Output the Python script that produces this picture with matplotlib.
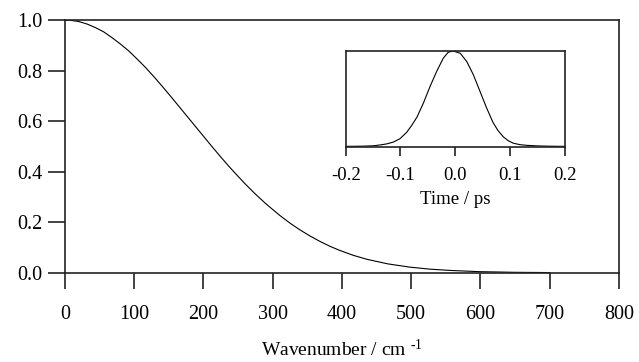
import matplotlib
matplotlib.use("Agg")
import matplotlib.pyplot as plt

plt.rcParams['font.family'] = ['Liberation Serif', 'DejaVu Serif']
plt.rcParams['mathtext.fontset'] = 'custom'
plt.rcParams['mathtext.rm'] = 'Liberation Serif'
plt.rcParams['mathtext.it'] = 'Liberation Serif:italic'
plt.rcParams['mathtext.bf'] = 'Liberation Serif:bold'

# Main curve: spectral amplitude vs wavenumber
wavenumber = [0, 10, 20, 32, 44, 56, 68, 80, 92, 104, 116, 128, 140, 152,
              164, 176, 188, 200, 212, 224, 236, 248, 260, 275, 290, 310,
              325, 339, 354, 368, 383, 397, 416, 436, 466, 498, 527, 556,
              599, 650, 700]
amplitude = [1.000, 0.998, 0.994, 0.984, 0.970, 0.953, 0.930, 0.905, 0.878,
             0.846, 0.813, 0.777, 0.739, 0.700, 0.660, 0.620, 0.580, 0.540,
             0.500, 0.461, 0.423, 0.387, 0.352, 0.311, 0.273, 0.227, 0.196,
             0.170, 0.145, 0.124, 0.104, 0.088, 0.069, 0.053, 0.035, 0.022,
             0.014, 0.009, 0.004, 0.0015, 0.0005]

# Inset: pulse vs time
time_ps = [-0.200, -0.170, -0.150, -0.137, -0.125, -0.113, -0.101, -0.089,
           -0.080, -0.070, -0.058, -0.046, -0.034, -0.022, -0.013, -0.004,
           0.009, 0.021, 0.033, 0.045, 0.057, 0.069, 0.078, 0.088, 0.097,
           0.106, 0.118, 0.130, 0.150, 0.170, 0.200]
pulse = [0.000, 0.002, 0.006, 0.015, 0.026, 0.045, 0.080, 0.145, 0.215,
         0.305, 0.455, 0.627, 0.783, 0.921, 0.983, 0.997, 0.973, 0.886,
         0.748, 0.576, 0.404, 0.248, 0.165, 0.098, 0.058, 0.033, 0.018,
         0.011, 0.005, 0.002, 0.000]

main_xticks = [0, 100, 200, 300, 400, 500, 600, 700, 800]
main_yticks = [0.0, 0.2, 0.4, 0.6, 0.8, 1.0]
inset_xticks = [-0.2, -0.1, 0.0, 0.1, 0.2]

fig = plt.figure(figsize=(6.39, 3.62), dpi=100)
ax = fig.add_axes([0.1017, 0.2467, 0.867, 0.698])
ax.plot(wavenumber, amplitude, color='black', lw=0.8)
ax.set_xlim(0, 800)
ax.set_ylim(0, 1.0)
ax.set_xticks(main_xticks)
ax.set_xticklabels([str(v) for v in main_xticks])
ax.set_yticks(main_yticks)
ax.set_yticklabels([f"{v:.1f}" for v in main_yticks])
for s in ax.spines.values():
    s.set_linewidth(1.2)
    s.set_color('#222222')
ax.tick_params(axis='x', direction='out', length=11.5, width=1.2,
               color='#222222', labelsize=14.5, pad=11.5)
ax.tick_params(axis='y', direction='out', length=12, width=1.2,
               color='#222222', labelsize=14.5, pad=4)
ax.set_xlabel(r"Wavenumber / cm $^{\text{-1}}$", fontsize=14, labelpad=11)

ins = fig.add_axes([0.541, 0.593, 0.343, 0.267])
ins.plot(time_ps, pulse, color='black', lw=0.8)
ins.set_xlim(-0.2, 0.2)
ins.set_ylim(-0.01, 1.0)
ins.set_xticks(inset_xticks)
ins.set_xticklabels([f"{v:.1f}" for v in inset_xticks])
ins.set_yticks([])
for s in ins.spines.values():
    s.set_linewidth(1.2)
    s.set_color('#222222')
ins.tick_params(axis='x', direction='out', length=6.5, width=1.2,
                color='#222222', labelsize=13.5, pad=7.5)
ins.set_xlabel("Time / ps", fontsize=13.5, labelpad=5)

fig.savefig("out.png", dpi=100)
